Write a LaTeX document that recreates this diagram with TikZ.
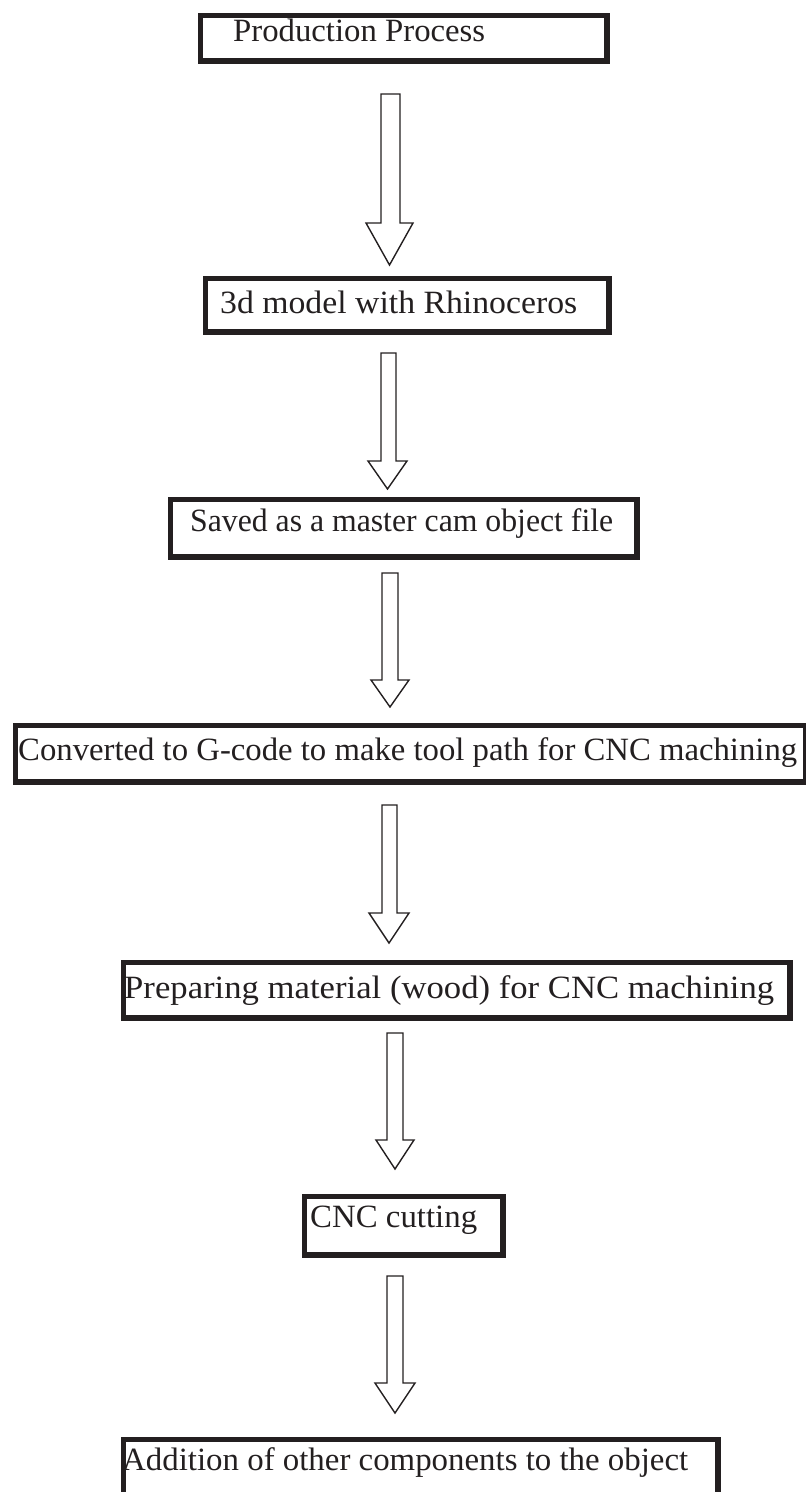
\documentclass[tikz,border=0pt]{standalone}
\usepackage{fontspec}
\setmainfont{Liberation Serif}
\definecolor{ink}{HTML}{231F20}
\tikzset{
  stage/.style={draw=ink, line width=5.5pt, rectangle, inner sep=0pt, anchor=north west},
  lbl/.style={text=ink, inner sep=0pt, anchor=base west, font=\fontsize{32.5}{38}\selectfont},
  hollow/.style={draw=ink, line width=1.4pt, line join=miter, fill=white}
}
% box: name, outer left, outer top, outer right, outer bottom, text x, text baseline, text width, text
\newcommand\stagebox[9]{%
  \node[stage, minimum width={(#4-#2-5.5)*1pt}, minimum height={(#5-#3-5.5)*1pt}]
    (#1) at (#2+2.75,#3+2.75) {};
  \node[lbl] (#1t) at (#6,#7) {\resizebox{#8pt}{\height}{#9}};
}
% hollow down arrow: shaft left, shaft right, top, shaft bottom, head left, head right, tip
\newcommand\flowarrow[7]{%
  \draw[hollow] (#1,#3) -- (#2,#3) -- (#2,#4) -- (#6,#4) -- ({(#5+#6)/2},#7)
    -- (#5,#4) -- (#1,#4) -- cycle;
}
\begin{document}
\begin{tikzpicture}[x=1pt,y=-1pt]
  \useasboundingbox (0,0) rectangle (806,1492);
  \clip (0,0) rectangle (806,1492);

  \stagebox{b1}{195}{10}{607}{61}{233}{41}{252}{Production Process}
  \flowarrow{381}{400}{94}{223}{366}{413}{265}

  \stagebox{b2}{200}{273}{609}{332}{220}{313}{357}{3d model with Rhinoceros}
  \flowarrow{381}{396}{353}{461}{368}{407}{489}

  \stagebox{b3}{165}{494}{637}{557}{190}{531}{423}{Saved as a master cam object file}
  \flowarrow{382}{398}{573}{680}{371}{409}{707}

  \stagebox{b4}{10}{720}{806}{782}{18}{760}{779}{Converted to G-code to make tool path for CNC machining}
  \flowarrow{382}{397}{805}{913}{369}{409}{943}

  \stagebox{b5}{118}{957}{790}{1018}{124}{998}{650}{Preparing material (wood) for CNC machining}
  \flowarrow{387}{403}{1033}{1140}{376}{414}{1169}

  \stagebox{b6}{299}{1191}{503}{1255}{310}{1227}{167}{CNC cutting}
  \flowarrow{387}{403}{1276}{1383}{375}{415}{1413}

  \stagebox{b7}{118}{1434}{718}{1530}{122}{1470}{566}{Addition of other components to the object}
\end{tikzpicture}
\end{document}
